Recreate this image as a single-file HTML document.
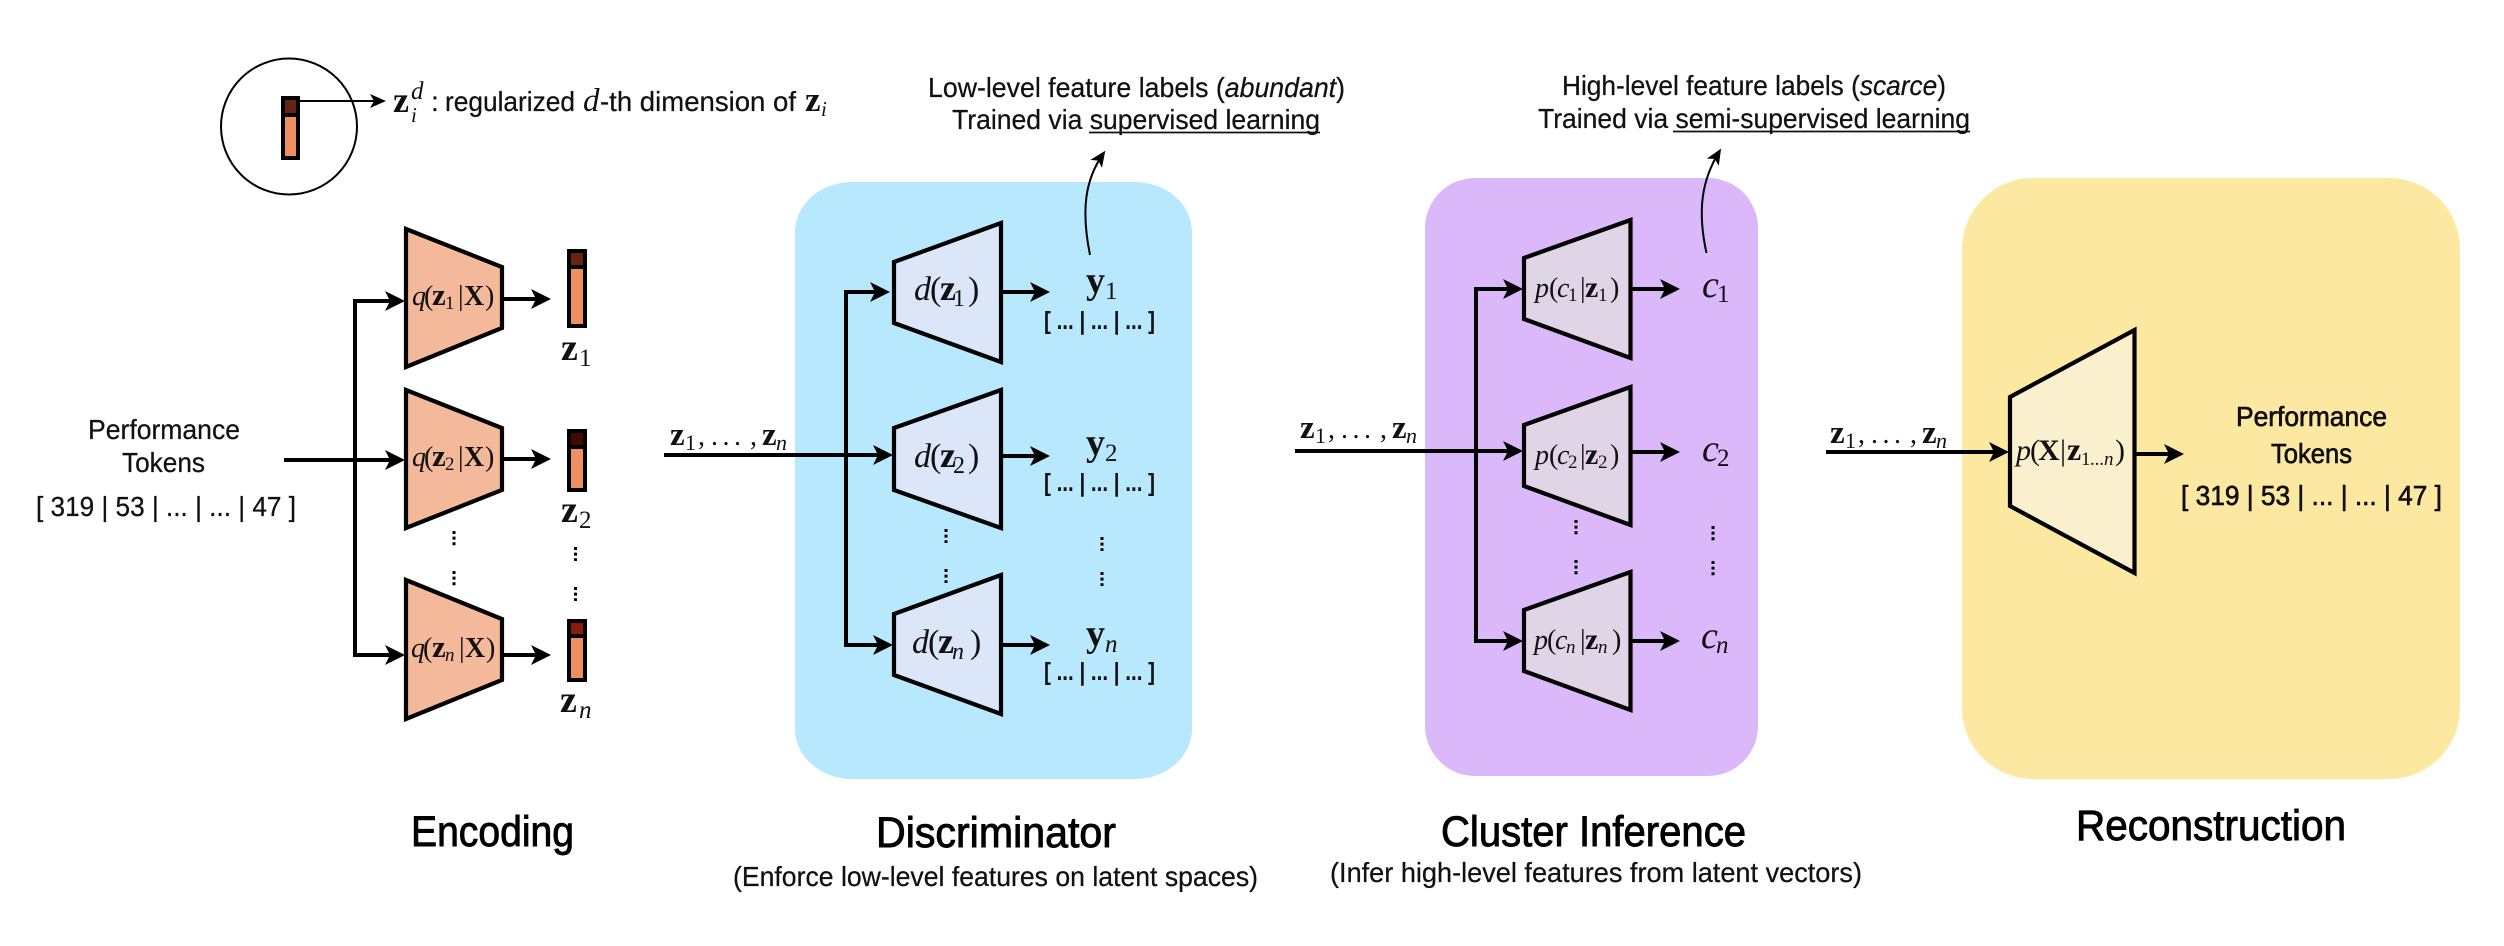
<!DOCTYPE html>
<html><head><meta charset="utf-8"><style>
html,body{margin:0;padding:0;background:#fff}
svg{display:block}
.s{font-family:"Liberation Sans",sans-serif;font-size:28px;fill:#111;stroke:#111;stroke-width:.25}
.h{font-family:"Liberation Sans",sans-serif;font-size:43px;fill:#000;stroke:#000;stroke-width:.9}
.m{font-family:"Liberation Serif",serif;fill:#111}
.i{font-style:italic}.b{font-weight:bold}
.t{stroke:#000;stroke-width:4.2;stroke-linejoin:miter}
.l{stroke:#000;stroke-width:4;fill:none}
.d{stroke:#000;stroke-width:3;stroke-dasharray:3 2.6;fill:none}
.e{fill:#f4b89a}.o{fill:#ef8f5f;stroke:#000;stroke-width:4}
</style></head><body>
<svg width="2504" height="946" viewBox="0 0 2504 946" xmlns="http://www.w3.org/2000/svg">
<defs>
<marker id="a" markerUnits="userSpaceOnUse" markerWidth="22" markerHeight="22" viewBox="0 0 22 22" refX="15" refY="11" orient="auto"><path d="M0 1L20 11L0 21L5 11Z" fill="#000"/></marker>
<marker id="c" markerUnits="userSpaceOnUse" markerWidth="18" markerHeight="18" viewBox="0 0 18 18" refX="12" refY="9" orient="auto"><path d="M0 2L16 9L0 16L4 9Z" fill="#000"/></marker>
</defs>
<rect x="795" y="182" width="397" height="597" rx="57" ry="50" fill="#b8e8fd"/>
<rect x="1425" y="178" width="333" height="598" rx="50" ry="50" fill="#dbb8fa"/>
<rect x="1962" y="178" width="498" height="601" rx="71" ry="71" fill="#fce8a0"/>

<!-- legend -->
<circle cx="289" cy="126.5" r="68" fill="none" stroke="#000" stroke-width="2"/>
<rect x="283" y="98" width="15" height="60" class="o"/><rect x="283" y="98" width="15" height="17" fill="#66230f" stroke="#000" stroke-width="4"/>
<path d="M298 101H382" stroke="#000" stroke-width="2" marker-end="url(#c)"/>
<text class="m b" font-size="36" x="393" y="112">z</text>
<text class="m i" font-size="25" x="411" y="99">d</text><text class="m i" font-size="21" x="411" y="122">i</text>
<text class="s" x="431" y="111">:</text>
<text class="s" x="445" y="111" textLength="130" lengthAdjust="spacingAndGlyphs">regularized</text>
<text class="m i" font-size="33" x="583" y="111">d</text>
<text class="s" x="600" y="111" textLength="196" lengthAdjust="spacingAndGlyphs">-th dimension of</text>
<text class="m b" font-size="35" x="805" y="111">z</text><text class="m i" font-size="21" x="821" y="116">i</text>

<!-- encoder -->
<text class="s" x="88" y="439" textLength="152" lengthAdjust="spacingAndGlyphs">Performance</text>
<text class="s" x="122" y="472" textLength="83" lengthAdjust="spacingAndGlyphs">Tokens</text>
<text class="s" x="36" y="516" textLength="260" lengthAdjust="spacingAndGlyphs">[ 319 | 53 | ... | ... | 47 ]</text>
<path d="M284 460H400" class="l" marker-end="url(#a)"/>
<path d="M355 460V301H400" class="l" marker-end="url(#a)"/>
<path d="M355 460V655H400" class="l" marker-end="url(#a)"/>
<path d="M406 229L502 267V328L406 367Z" class="t e"/>
<path d="M406 390L502 428V490L406 528Z" class="t e"/>
<path d="M406 580L502 619V680L406 719Z" class="t e"/>
<path d="M502 299H546" class="l" marker-end="url(#a)"/>
<path d="M502 459H546" class="l" marker-end="url(#a)"/>
<path d="M502 655H546" class="l" marker-end="url(#a)"/>
<g font-size="28" class="m">
<text class="i" x="412" y="305">q</text><text x="424" y="305">(</text><text class="b" font-size="31" x="432" y="305">z</text><text font-size="19" x="445" y="309">1</text><text x="458" y="305">|</text><text class="b" x="464" y="305">X</text><text x="485" y="305">)</text>
<text class="i" x="412" y="466">q</text><text x="424" y="466">(</text><text class="b" font-size="31" x="432" y="466">z</text><text font-size="19" x="445" y="470">2</text><text x="458" y="466">|</text><text class="b" x="464" y="466">X</text><text x="485" y="466">)</text>
<text class="i" x="411" y="657">q</text><text x="423" y="657">(</text><text class="b" font-size="31" x="432" y="657">z</text><text class="i" font-size="19" x="445" y="661">n</text><text x="459" y="657">|</text><text class="b" x="465" y="657">X</text><text x="486" y="657">)</text>
</g>
<rect x="569" y="251" width="16" height="75" class="o"/><rect x="569" y="251" width="16" height="16" fill="#66230f" stroke="#000" stroke-width="4"/>
<rect x="569" y="431" width="16" height="59" class="o"/><rect x="569" y="431" width="16" height="16" fill="#420a00" stroke="#000" stroke-width="4"/>
<rect x="569" y="621" width="16" height="59" class="o"/><rect x="569" y="621" width="16" height="15" fill="#8a1a0c" stroke="#000" stroke-width="4"/>
<g class="m" font-size="38">
<text class="b" x="561" y="360">z</text><text font-size="25" x="579" y="366">1</text>
<text class="b" x="561" y="522">z</text><text font-size="25" x="579" y="528">2</text>
<text class="b" x="560" y="712">z</text><text class="i" font-size="25" x="579" y="718">n</text>
</g>
<path d="M454 531V546M454 571V586M575.5 547V561M575.5 587V601" class="d"/>
<text class="h" x="411" y="846" textLength="163" lengthAdjust="spacingAndGlyphs">Encoding</text>

<!-- latent labels -->
<g class="m" font-size="28">
<text class="b" font-size="33" x="670" y="445">z</text><text font-size="22" x="685" y="450">1</text><text x="698" y="445">,</text><text x="711" y="445" textLength="30">. . .</text><text x="750" y="445">,</text><text class="b" font-size="33" x="762" y="445">z</text><text class="i" font-size="22" x="776" y="450">n</text>
</g>
<g class="m" font-size="28" transform="translate(630,-7)">
<text class="b" font-size="33" x="670" y="445">z</text><text font-size="22" x="685" y="450">1</text><text x="698" y="445">,</text><text x="711" y="445" textLength="30">. . .</text><text x="750" y="445">,</text><text class="b" font-size="33" x="762" y="445">z</text><text class="i" font-size="22" x="776" y="450">n</text>
</g>
<g class="m" font-size="28" transform="translate(1160,-2)">
<text class="b" font-size="33" x="670" y="445">z</text><text font-size="22" x="685" y="450">1</text><text x="698" y="445">,</text><text x="711" y="445" textLength="30">. . .</text><text x="750" y="445">,</text><text class="b" font-size="33" x="762" y="445">z</text><text class="i" font-size="22" x="776" y="450">n</text>
</g>

<!-- discriminator -->
<path d="M664 455H888" class="l" marker-end="url(#a)"/>
<path d="M846 455V292H885" class="l" marker-end="url(#a)"/>
<path d="M846 455V645H888" class="l" marker-end="url(#a)"/>
<g fill="#dbe6f9">
<path d="M894 262L1001 223V362L894 323Z" class="t"/>
<path d="M894 428L1001 390V528L894 490Z" class="t"/>
<path d="M894 614L1001 575V714L894 675Z" class="t"/>
</g>
<path d="M1001 292H1045" class="l" marker-end="url(#a)"/>
<path d="M1001 456H1045" class="l" marker-end="url(#a)"/>
<path d="M1001 645H1045" class="l" marker-end="url(#a)"/>
<g class="m" font-size="34">
<text class="i" x="914" y="300">d</text><text x="930" y="300">(</text><text class="b" font-size="36" x="940" y="300">z</text><text font-size="24" x="953" y="306">1</text><text x="968" y="300">)</text>
<text class="i" x="914" y="467">d</text><text x="930" y="467">(</text><text class="b" font-size="36" x="940" y="467">z</text><text font-size="24" x="953" y="473">2</text><text x="968" y="467">)</text>
<text class="i" x="912" y="653">d</text><text x="928" y="653">(</text><text class="b" font-size="36" x="938" y="653">z</text><text class="i" font-size="24" x="952" y="659">n</text><text x="970" y="653">)</text>
</g>
<g class="m" font-size="38">
<text class="b" x="1086" y="293">y</text><text font-size="25" x="1105" y="299">1</text>
<text class="b" x="1086" y="455">y</text><text font-size="25" x="1105" y="461">2</text>
<text class="b" x="1086" y="646">y</text><text class="i" font-size="25" x="1105" y="652">n</text>
</g>
<g class="s" style="font-size:25px;font-weight:bold;stroke-width:0">
<text x="1044" y="329" textLength="111" lengthAdjust="spacingAndGlyphs">[ ... | ... | ... ]</text>
<text x="1044" y="491" textLength="111" lengthAdjust="spacingAndGlyphs">[ ... | ... | ... ]</text>
<text x="1044" y="680" textLength="111" lengthAdjust="spacingAndGlyphs">[ ... | ... | ... ]</text>
</g>
<path d="M946 529V543M946 569V583M1102 537V551M1102 572V586" class="d"/>
<path d="M1090 255C1081 210 1085 180 1103 154" fill="none" stroke="#000" stroke-width="2" marker-end="url(#c)"/>
<text class="s" x="928" y="97" textLength="417" lengthAdjust="spacingAndGlyphs">Low-level feature labels (<tspan class="i">abundant</tspan>)</text>
<text class="s" x="952" y="129" textLength="368" lengthAdjust="spacingAndGlyphs">Trained via supervised learning</text>
<path d="M1089 132.500H1320" stroke="#111" stroke-width="1.800"/>
<text class="h" x="876" y="847" textLength="240" lengthAdjust="spacingAndGlyphs">Discriminator</text>
<text class="s" x="733" y="886" textLength="525" lengthAdjust="spacingAndGlyphs">(Enforce low-level features on latent spaces)</text>

<!-- cluster -->
<path d="M1295 451H1518" class="l" marker-end="url(#a)"/>
<path d="M1476 451V289H1518" class="l" marker-end="url(#a)"/>
<path d="M1476 451V641H1518" class="l" marker-end="url(#a)"/>
<g fill="#dfd5e6">
<path d="M1524 258L1630.500 220V358L1524 319Z" class="t"/>
<path d="M1524 425L1630.500 387V525L1524 486Z" class="t"/>
<path d="M1524 610L1630.500 572V710L1524 671Z" class="t"/>
</g>
<path d="M1630 289H1675" class="l" marker-end="url(#a)"/>
<path d="M1630 452H1675" class="l" marker-end="url(#a)"/>
<path d="M1630 641H1675" class="l" marker-end="url(#a)"/>
<g class="m" font-size="28">
<text class="i" x="1535" y="297">p</text><text x="1549" y="297">(</text><text class="i" x="1557" y="297">c</text><text font-size="19" x="1568" y="301">1</text><text x="1580" y="297">|</text><text class="b" font-size="30" x="1585" y="297">z</text><text font-size="19" x="1598" y="301">1</text><text x="1610" y="297">)</text>
<text class="i" x="1535" y="464">p</text><text x="1549" y="464">(</text><text class="i" x="1557" y="464">c</text><text font-size="19" x="1568" y="468">2</text><text x="1580" y="464">|</text><text class="b" font-size="30" x="1585" y="464">z</text><text font-size="19" x="1598" y="468">2</text><text x="1610" y="464">)</text>
<text class="i" x="1534" y="649">p</text><text x="1547" y="649">(</text><text class="i" x="1555" y="649">c</text><text class="i" font-size="19" x="1566" y="653">n</text><text x="1580" y="649">|</text><text class="b" font-size="30" x="1585" y="649">z</text><text class="i" font-size="19" x="1598" y="653">n</text><text x="1612" y="649">)</text>
</g>
<g class="m" font-size="38">
<text class="i" x="1702" y="297">c</text><text font-size="25" x="1717" y="302">1</text>
<text class="i" x="1702" y="461">c</text><text font-size="25" x="1717" y="466">2</text>
<text class="i" x="1701" y="648">c</text><text class="i" font-size="25" x="1716" y="653">n</text>
</g>
<path d="M1576 520V535M1576 560V575M1713 526V541M1713 561V576" class="d"/>
<path d="M1706.500 253C1697 210 1702 180 1719 152" fill="none" stroke="#000" stroke-width="2" marker-end="url(#c)"/>
<text class="s" x="1562" y="95" textLength="384" lengthAdjust="spacingAndGlyphs">High-level feature labels (<tspan class="i">scarce</tspan>)</text>
<text class="s" x="1538" y="128" textLength="432" lengthAdjust="spacingAndGlyphs">Trained via semi-supervised learning</text>
<path d="M1673 131.500H1970" stroke="#111" stroke-width="1.800"/>
<text class="h" x="1441" y="846" textLength="305" lengthAdjust="spacingAndGlyphs">Cluster Inference</text>
<text class="s" x="1330" y="882" textLength="532" lengthAdjust="spacingAndGlyphs">(Infer high-level features from latent vectors)</text>

<!-- reconstruction -->
<path d="M1826 452H2004" class="l" marker-end="url(#a)"/>
<path d="M2010 397L2134.500 330V573L2010 506Z" fill="#fbf0ce" class="t"/>
<path d="M2134 454H2179" class="l" marker-end="url(#a)"/>
<g class="m" font-size="30">
<text class="i" x="2016" y="460">p</text><text x="2030" y="460">(</text><text class="b" x="2038" y="460">X</text><text x="2060" y="460">|</text><text class="b" font-size="32" x="2067" y="460">z</text><text font-size="19" x="2081" y="465">1</text><text font-size="19" x="2090" y="465" textLength="14">...</text><text class="i" font-size="19" x="2104" y="465">n</text><text x="2115" y="460">)</text>
</g>
<g class="s" style="stroke:#000;stroke-width:.6">
<text x="2236" y="426" textLength="151" lengthAdjust="spacingAndGlyphs">Performance</text>
<text x="2271" y="463" textLength="81" lengthAdjust="spacingAndGlyphs">Tokens</text>
<text x="2181" y="505" textLength="261" lengthAdjust="spacingAndGlyphs">[ 319 | 53 | ... | ... | 47 ]</text>
</g>
<text class="h" x="2076" y="840" textLength="270" lengthAdjust="spacingAndGlyphs">Reconstruction</text>
</svg>
</body></html>
